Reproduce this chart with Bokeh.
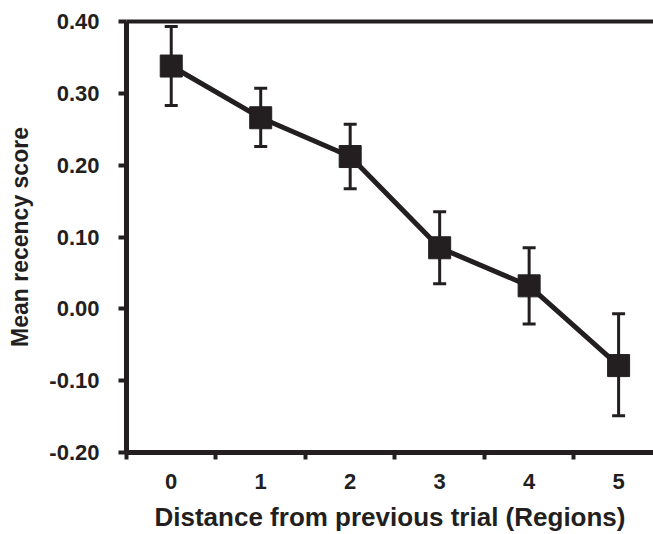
from bokeh.plotting import figure
from bokeh.models import (ColumnDataSource, Whisker, TeeHead, FixedTicker,
                          PrintfTickFormatter, Range1d, LinearAxis)
from bokeh.embed import file_html
from bokeh.resources import INLINE

# ---- data ----
distance = [0, 1, 2, 3, 4, 5]
mean_score = [0.338, 0.266, 0.212, 0.085, 0.032, -0.079]
upper_err = [0.393, 0.307, 0.257, 0.135, 0.085, -0.007]
lower_err = [0.283, 0.226, 0.167, 0.035, -0.021, -0.149]
y_ticks = [-0.2, -0.1, 0.0, 0.1, 0.2, 0.3, 0.4]
x_tick_labels = [0, 1, 2, 3, 4, 5]
x_boundaries = [-0.5, 0.5, 1.5, 2.5, 3.5, 4.5, 5.5]

INK = "#231f20"
FONT = "Liberation Sans"

src = ColumnDataSource(dict(x=distance, y=mean_score, upper=upper_err, lower=lower_err))

p = figure(width=653, height=534, output_backend="svg", toolbar_location=None,
           x_range=Range1d(-0.5, 5.39), y_range=Range1d(-0.2, 0.4),
           min_border_left=126, min_border_right=0, min_border_top=21,
           min_border_bottom=81)
p.outline_line_color = None
p.xgrid.visible = False
p.ygrid.visible = False
p.background_fill_color = "white"
p.border_fill_color = "white"

# error bars
w = Whisker(source=src, base="x", upper="upper", lower="lower",
            line_color=INK, line_width=3,
            upper_head=TeeHead(size=13, line_color=INK, line_width=3),
            lower_head=TeeHead(size=13, line_color=INK, line_width=3),
            level="underlay")
p.add_layout(w)

p.line("x", "y", source=src, line_width=5, line_color=INK)
p.scatter("x", "y", source=src, marker="square", size=22, fill_color=INK, line_color=INK)

# y axis
ya = p.left[0]
ya.ticker = FixedTicker(ticks=y_ticks, minor_ticks=[])
ya.formatter = PrintfTickFormatter(format="%.2f")
ya.axis_line_width = 5
ya.axis_line_color = INK
ya.major_tick_line_width = 4
ya.major_tick_line_color = INK
ya.major_tick_out = 8
ya.major_tick_in = 0
ya.minor_tick_line_color = None
ya.major_label_text_font = FONT
ya.major_label_text_font_style = "bold"
ya.major_label_text_font_size = "22px"
ya.major_label_text_color = INK
ya.major_label_standoff = 19
ya.axis_label = "Mean recency score"
ya.axis_label_text_font = FONT
ya.axis_label_text_font_style = "bold"
ya.axis_label_text_font_size = "23px"
ya.axis_label_text_color = INK
ya.axis_label_standoff = 13

# x axis
xa = p.below[0]
xa.ticker = FixedTicker(ticks=x_tick_labels, minor_ticks=x_boundaries)
xa.axis_line_width = 5
xa.axis_line_color = INK
xa.major_tick_line_color = None
xa.major_tick_out = 0
xa.major_tick_in = 0
xa.minor_tick_line_color = INK
xa.minor_tick_line_width = 4
xa.minor_tick_out = 7
xa.minor_tick_in = 0
xa.major_label_text_font = FONT
xa.major_label_text_font_style = "bold"
xa.major_label_text_font_size = "22px"
xa.major_label_text_color = INK
xa.major_label_standoff = 14
xa.axis_label = "Distance from previous trial (Regions)"
xa.axis_label_text_font = FONT
xa.axis_label_text_font_style = "bold"
xa.axis_label_text_font_size = "26px"
xa.axis_label_text_color = INK
xa.axis_label_standoff = 10

# top line (axis without ticks or labels)
top = LinearAxis(axis_line_color=INK, axis_line_width=4,
                 major_tick_line_color=None, minor_tick_line_color=None,
                 major_tick_out=0, major_tick_in=0, minor_tick_out=0, minor_tick_in=0,
                 major_label_text_font_size="0px", major_label_standoff=0,
                 ticker=FixedTicker(ticks=[], minor_ticks=[]))
p.add_layout(top, "above")

open("out.html", "w").write(file_html(p, INLINE))
